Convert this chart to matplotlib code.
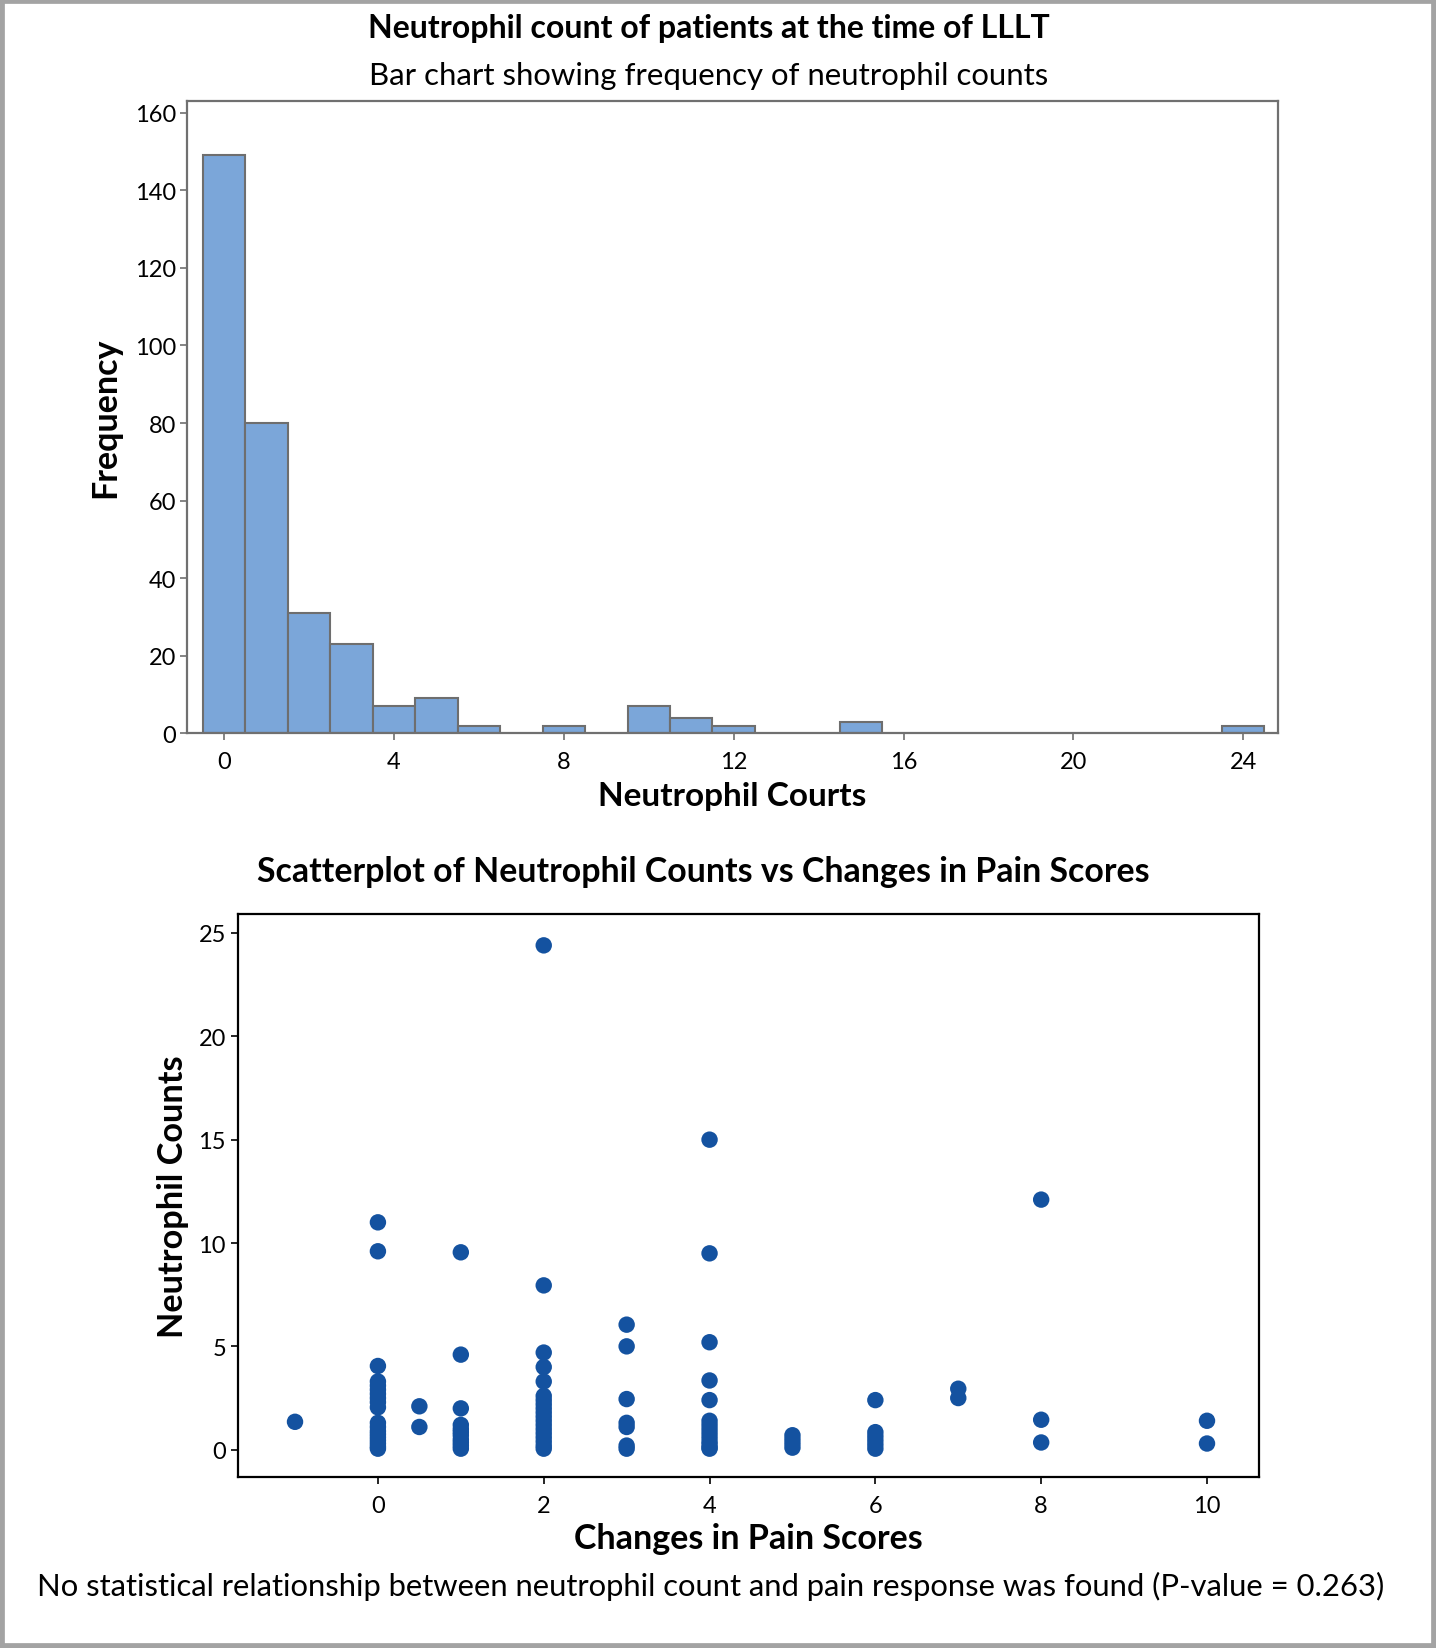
import matplotlib
matplotlib.use("Agg")
import matplotlib.pyplot as plt
from matplotlib.patches import Rectangle

plt.rcParams['font.family'] = ['Lato', 'DejaVu Sans']

# histogram data (bins of width 1 centred on integers)
bin_centers = [0, 1, 2, 3, 4, 5, 6, 8, 10, 11, 12, 15, 24]
frequency = [149, 80, 31, 23, 7, 9, 2, 2, 7, 4, 2, 3, 2]
hist_xticks = [0, 4, 8, 12, 16, 20, 24]
hist_yticks = [0, 20, 40, 60, 80, 100, 120, 140, 160]

# scatter data: changes in pain score vs neutrophil count
pain_change = ([-1] +
               [0] * 19 +
               [0.5] * 2 +
               [1] * 11 +
               [2] * 19 +
               [3] * 7 +
               [4] * 14 +
               [5] * 4 +
               [6] * 6 +
               [7] * 2 +
               [8] * 3 +
               [10] * 2)
neutrophil = ([1.35] +
              [11.0, 9.6, 4.05, 3.3, 3.1, 2.9, 2.7, 2.5, 2.3, 2.05,
               1.3, 1.1, 0.9, 0.75, 0.6, 0.45, 0.3, 0.15, 0.05] +
              [2.1, 1.1] +
              [9.55, 4.6, 2.0, 1.2, 1.0, 0.85, 0.7, 0.5, 0.35, 0.2, 0.05] +
              [24.4, 7.95, 4.7, 4.0, 3.3, 2.6, 2.4, 2.2, 2.0, 1.8, 1.6,
               1.4, 1.2, 1.0, 0.8, 0.6, 0.4, 0.2, 0.05] +
              [6.05, 5.0, 2.45, 1.3, 1.1, 0.2, 0.05] +
              [15.0, 9.5, 5.2, 3.35, 2.4, 1.4, 1.2, 1.0, 0.8, 0.6, 0.4,
               0.25, 0.1, 0.05] +
              [0.7, 0.5, 0.3, 0.1] +
              [2.4, 0.85, 0.65, 0.45, 0.25, 0.05] +
              [2.95, 2.5] +
              [12.1, 1.45, 0.35] +
              [1.4, 0.3])
scatter_xticks = [0, 2, 4, 6, 8, 10]
scatter_yticks = [0, 5, 10, 15, 20, 25]

fig = plt.figure(figsize=(14.36, 16.49), dpi=100)

# grey frame around the whole figure
fig.patches.append(Rectangle((0, 0), 1, 1, transform=fig.transFigure,
                             fill=False, edgecolor='#a3a3a3', linewidth=7))

# ---- top: histogram ----
ax1 = fig.add_axes([0.1304, 0.5547, 0.7596, 0.3834])
ax1.bar(bin_centers, frequency, width=1.0, color='#7ba6d9',
        edgecolor='#6e6e6e', linewidth=1.5)
ax1.set_xlim(-0.87, 24.82)
ax1.set_ylim(0, 163)
ax1.set_xticks(hist_xticks)
ax1.set_yticks(hist_yticks)
for sp in ax1.spines.values():
    sp.set_color('#707070')
    sp.set_linewidth(1.6)
ax1.tick_params(axis='both', colors='#707070', labelcolor='black',
                labelsize=17, length=5, width=1.2)
ax1.tick_params(axis='x', pad=8)
ax1.tick_params(axis='y', pad=3)
ax1.set_xlabel("Neutrophil Courts", fontsize=24, fontweight='bold', labelpad=6)
ax1.set_ylabel("Frequency", fontsize=24.5, fontweight='bold', labelpad=10)

fig.text(0.4934, 0.9828, "Neutrophil count of patients at the time of LLLT",
         ha='center', va='center', fontsize=23, fontweight='bold')
fig.text(0.4933, 0.9541, "Bar chart showing frequency of neutrophil counts",
         ha='center', va='center', fontsize=22.4)

# ---- bottom: scatterplot ----
ax2 = fig.add_axes([0.1656, 0.1037, 0.7113, 0.3412])
ax2.scatter(pain_change, neutrophil, s=140, color='#1452a0',
            edgecolors='none', zorder=3)
ax2.set_xlim(-1.69, 10.63)
ax2.set_ylim(-1.32, 25.9)
ax2.set_xticks(scatter_xticks)
ax2.set_yticks(scatter_yticks)
for sp in ax2.spines.values():
    sp.set_color('black')
    sp.set_linewidth(1.6)
ax2.tick_params(axis='both', labelsize=17, length=5, width=1.2)
ax2.tick_params(axis='x', pad=8)
ax2.set_xlabel("Changes in Pain Scores", fontsize=24.5, fontweight='bold', labelpad=4)
ax2.set_ylabel("Neutrophil Counts", fontsize=24.7, fontweight='bold', labelpad=7)

fig.text(0.4897, 0.4711, "Scatterplot of Neutrophil Counts vs Changes in Pain Scores",
         ha='center', va='center', fontsize=24.4, fontweight='bold')
fig.text(0.4952, 0.0382,
         "No statistical relationship between neutrophil count and pain response was found (P-value = 0.263)",
         ha='center', va='center', fontsize=22.3)

fig.savefig("out.png", dpi=100)
plt.close(fig)
